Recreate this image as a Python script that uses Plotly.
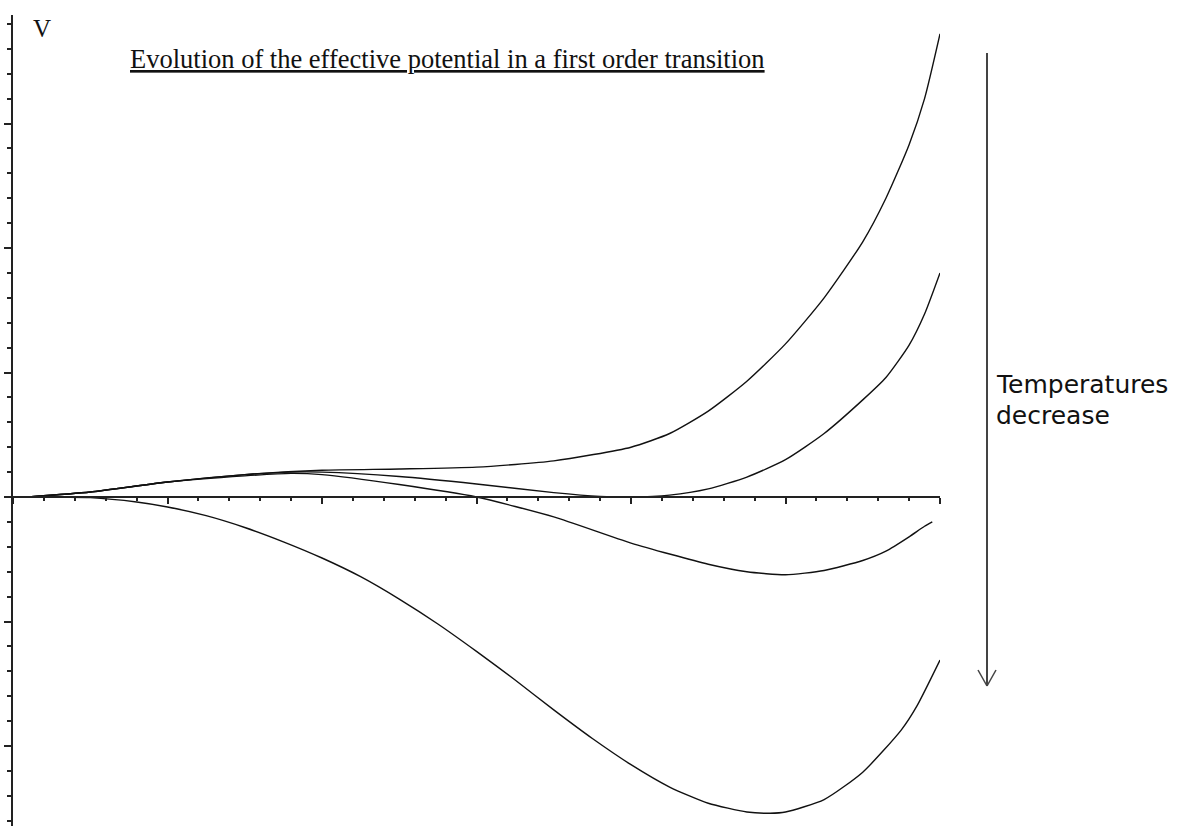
import plotly.graph_objects as go

# Field value (phi) and potential readings for each temperature
phi_1 = [0.1, 0.5, 1.0, 1.5, 2.0, 2.5, 3.0, 3.5, 4.0, 4.25, 4.5, 4.75, 5.0, 5.25, 5.5, 5.65, 5.8, 5.9, 6.0]
v_1 = [0.0, 0.04, 0.12, 0.18, 0.215, 0.225, 0.24, 0.29, 0.40, 0.51, 0.69, 0.93, 1.23, 1.60, 2.05, 2.40, 2.83, 3.20, 3.72]

phi_2 = [0.1, 0.5, 1.0, 1.5, 1.8, 2.0, 2.5, 3.0, 3.5, 3.8, 4.0, 4.25, 4.5, 4.75, 5.0, 5.25, 5.5, 5.65, 5.8, 5.9, 6.0]
v_2 = [0.0, 0.04, 0.12, 0.18, 0.20, 0.20, 0.165, 0.105, 0.035, 0.005, 0.0, 0.015, 0.065, 0.16, 0.30, 0.51, 0.78, 0.96, 1.22, 1.47, 1.80]

phi_3 = [0.1, 0.5, 1.0, 1.5, 1.8, 2.0, 2.5, 3.0, 3.5, 4.0, 4.5, 4.75, 5.0, 5.25, 5.5, 5.65, 5.8, 5.9, 5.95]
v_3 = [0.0, 0.04, 0.12, 0.17, 0.19, 0.18, 0.10, 0.0, -0.16, -0.37, -0.54, -0.60, -0.625, -0.59, -0.51, -0.435, -0.32, -0.235, -0.20]

phi_4 = [0.1, 0.5, 0.8, 1.0, 1.25, 1.5, 1.75, 2.0, 2.25, 2.5, 2.75, 3.0, 3.25, 3.5, 3.75, 4.0, 4.25, 4.5, 4.75, 4.9, 5.0, 5.25, 5.5, 5.75, 5.85, 6.0]
v_4 = [0.0, -0.005, -0.04, -0.08, -0.15, -0.245, -0.36, -0.49, -0.64, -0.82, -1.02, -1.24, -1.47, -1.71, -1.94, -2.15, -2.33, -2.46, -2.53, -2.54, -2.53, -2.43, -2.21, -1.87, -1.68, -1.31]

curves = [(phi_1, v_1), (phi_2, v_2), (phi_3, v_3), (phi_4, v_4)]

title_text = "Evolution of the effective potential in a first order transition"
y_label = "V"
arrow_line1 = "Temperatures"
arrow_line2 = "decrease"

W, H = 1184, 826
x_left_px, x_right_px = 13, 940
y_top_px = 15
zero_px = 497
unit_y = 124.5

fig = go.Figure()
for px, vy in curves:
    fig.add_trace(go.Scatter(x=px, y=vy, mode="lines",
                             line=dict(color="#111111", width=1.4, shape="spline", smoothing=0.6),
                             hoverinfo="skip", showlegend=False))

y_top = (zero_px - y_top_px) / unit_y
y_bot = -(H - zero_px) / unit_y

fig.update_layout(
    width=W, height=H,
    margin=dict(l=0, r=0, t=0, b=0),
    paper_bgcolor="white", plot_bgcolor="white",
    showlegend=False,
    xaxis=dict(domain=[x_left_px / W, x_right_px / W], range=[0, 6],
               anchor="free", position=(H - zero_px) / H,
               showgrid=False, zeroline=False, showline=True, linecolor="#222222", linewidth=2,
               ticks="outside", ticklen=6, tickwidth=1.5, tickcolor="#222222",
               tick0=0, dtick=1, showticklabels=False,
               minor=dict(ticks="outside", ticklen=3, tickwidth=1.5, tickcolor="#222222", dtick=0.2, tick0=0, showgrid=False)),
    yaxis=dict(domain=[0, 1 - y_top_px / H], range=[y_bot, y_top],
               showgrid=False, zeroline=False, showline=True, linecolor="#222222", linewidth=2,
               ticks="outside", ticklen=7, tickwidth=1.5, tickcolor="#222222",
               tick0=0, dtick=1, showticklabels=False,
               minor=dict(ticks="outside", ticklen=4, tickwidth=1.5, tickcolor="#222222", dtick=0.2, tick0=0, showgrid=False)),
)

fig.add_annotation(x=128 / W, y=1 - 59 / H, xref="paper", yref="paper",
                   text=title_text, showarrow=False, xanchor="left", yanchor="middle",
                   font=dict(family="Liberation Serif", size=26.5, color="#111111", lineposition="under"))
fig.add_annotation(x=31 / W, y=1 - 28 / H, xref="paper", yref="paper",
                   text=y_label, showarrow=False, xanchor="left", yanchor="middle",
                   font=dict(family="Liberation Serif", size=25, color="#111111"))
fig.add_annotation(x=994 / W, y=1 - 384 / H, xref="paper", yref="paper",
                   text=arrow_line1, showarrow=False, xanchor="left", yanchor="middle",
                   font=dict(family="DejaVu Sans", size=25, color="#111111"))
fig.add_annotation(x=994 / W, y=1 - 415 / H, xref="paper", yref="paper",
                   text=arrow_line2, showarrow=False, xanchor="left", yanchor="middle",
                   font=dict(family="DejaVu Sans", size=25, color="#111111"))

# arrow
fig.add_shape(type="line", xref="paper", yref="paper",
              x0=987 / W, x1=987 / W, y0=1 - 53 / H, y1=1 - 686 / H,
              line=dict(color="#444444", width=2))
fig.add_shape(type="line", xref="paper", yref="paper",
              x0=978 / W, x1=987 / W, y0=1 - 670 / H, y1=1 - 686 / H,
              line=dict(color="#444444", width=1.5))
fig.add_shape(type="line", xref="paper", yref="paper",
              x0=996 / W, x1=987 / W, y0=1 - 670 / H, y1=1 - 686 / H,
              line=dict(color="#444444", width=1.5))

fig.write_html("out.html", config={"displayModeBar": False},
               post_script="document.body.style.margin='0';")
